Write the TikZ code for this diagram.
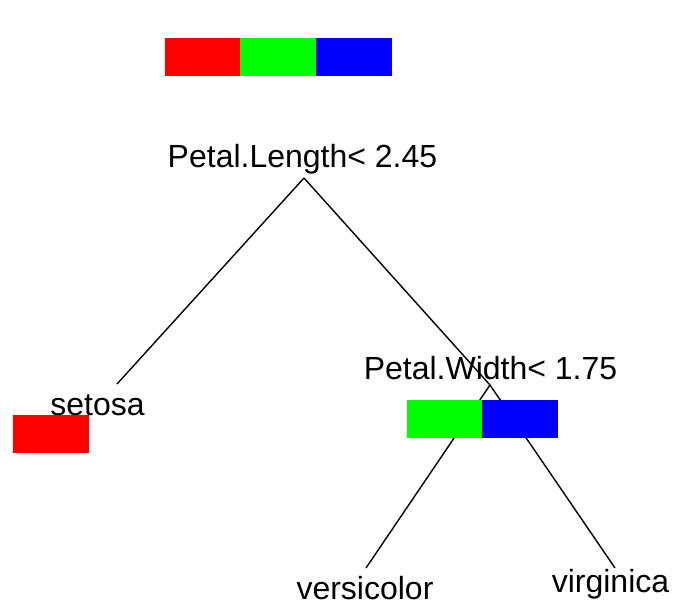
\documentclass[tikz,border=0pt]{standalone}
\usepackage{fontspec}
\setmainfont{Liberation Sans}
\begin{document}
\begin{tikzpicture}[x=1pt,y=-1pt,
  lbl/.style={anchor=base,inner sep=0pt,font=\fontsize{32}{38}\selectfont},
  bar/.style={draw=none,inner sep=0pt,minimum width=75.5pt,minimum height=37.5pt,anchor=north west},
  edge/.style={draw=black,line width=1.4pt}]
\useasboundingbox (0,0) rectangle (674,606);
% split points and leaf ends
\coordinate (root) at (304,178);
\coordinate (n2) at (490,385);
\coordinate (setend) at (117,384);
\coordinate (verend) at (366,568);
\coordinate (virend) at (615,568);
% connectors
\draw[edge] (root) -- (setend);
\draw[edge] (root) -- (n2);
\draw[edge] (n2) -- (verend);
\draw[edge] (n2) -- (virend);
% top bar
\node[bar,fill=red,minimum width=76pt] (t1) at (165,38) {};
\node[bar,fill=green,minimum width=76pt] (t2) at (240,38) {};
\node[bar,fill=blue,minimum width=76pt] (t3) at (316,38) {};
% node 2 bar
\node[bar,fill=green] (b1) at (407,400) {};
\node[bar,fill=blue,minimum width=76pt] (b2) at (482,400) {};
% setosa bar
\node[bar,fill=red,minimum width=76pt,minimum height=38pt] (s1) at (13,415) {};
% labels
\node[lbl] (rootlbl) at (302.5,167) {Petal.Length< 2.45};
\node[lbl] (n2lbl) at (490.5,379) {Petal.Width< 1.75};
\node[lbl] (setlbl) at (97.5,415) {setosa};
\node[lbl] (verlbl) at (365,599) {versicolor};
\node[lbl] (virlbl) at (610.5,592) {virginica};
\end{tikzpicture}
\end{document}
